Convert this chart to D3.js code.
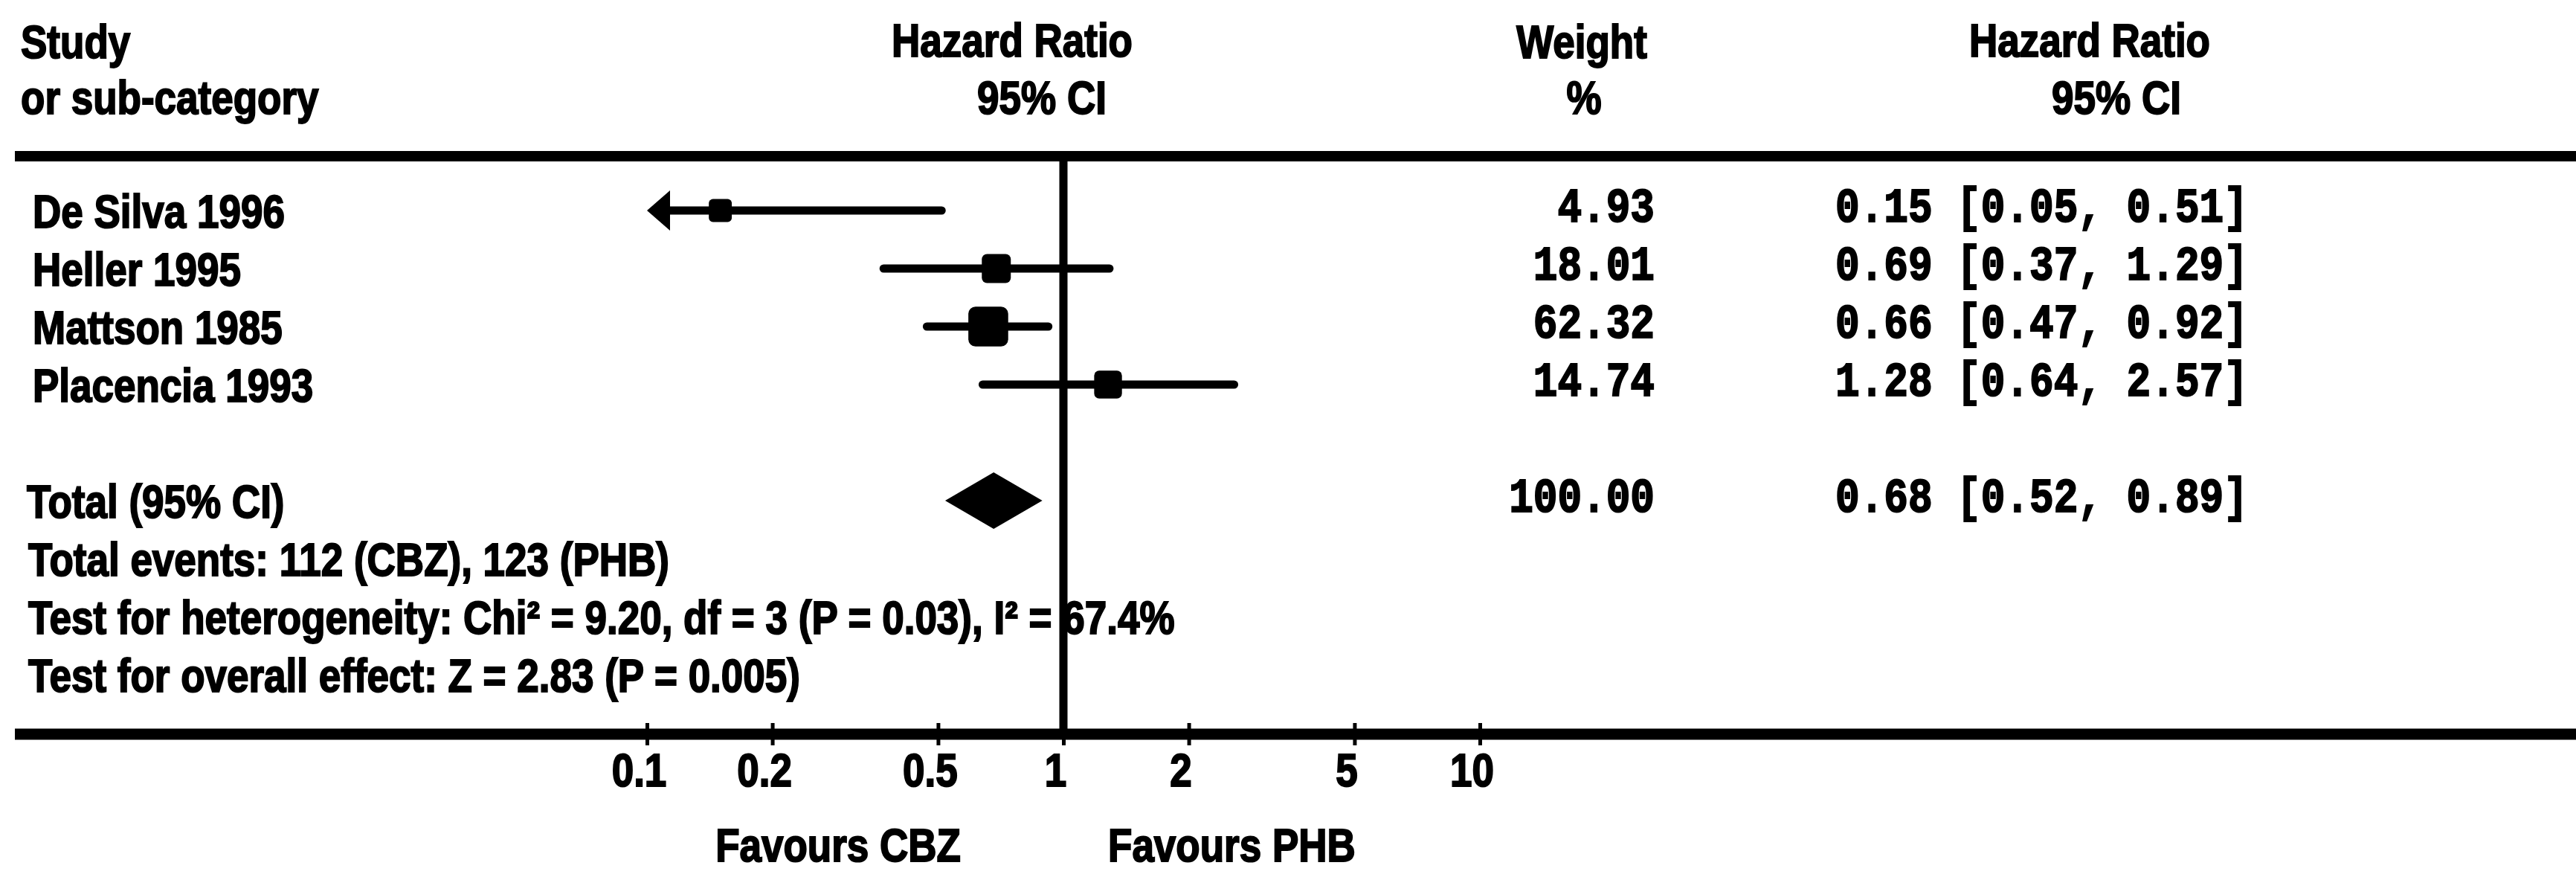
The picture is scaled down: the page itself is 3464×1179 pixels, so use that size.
<!DOCTYPE html>
<html>
<head>
<meta charset="utf-8">
<script src="https://cdn.jsdelivr.net/npm/d3@7"></script>
<style>
  html, body { margin: 0; padding: 0; background: #fff; }
  svg { display: block; }
</style>
</head>
<body>
<svg id="chart" width="3464" height="1179"></svg>
<script>
// ---- data -------------------------------------------------------------
const studies     = ["De Silva 1996", "Heller 1995", "Mattson 1985", "Placencia 1993"];
const hazardRatio = [0.15, 0.69, 0.66, 1.28];
const ciLower     = [0.05, 0.37, 0.47, 0.64];
const ciUpper     = [0.51, 1.29, 0.92, 2.57];
const weights     = [4.93, 18.01, 62.32, 14.74];

const totalLabel    = "Total (95% CI)";
const totalEstimate = [0.68, 0.52, 0.89];   // pooled HR, lower, upper
const totalWeight   = 100.00;

const footnotes = [
  "Total events: 112 (CBZ), 123 (PHB)",
  "Test for heterogeneity: Chi\u00B2 = 9.20, df = 3 (P = 0.03), I\u00B2 = 67.4%",
  "Test for overall effect: Z = 2.83 (P = 0.005)"
];

const tickValues   = [0.1, 0.2, 0.5, 1, 2, 5, 10];
const tickLabels   = ["0.1", "0.2", "0.5", "1", "2", "5", "10"];
const favourLabels = ["Favours CBZ", "Favours PHB"];

const headerLeft   = ["Study", "or sub-category"];
const headerEffect = ["Hazard Ratio", "95% CI"];
const headerWeight = ["Weight", "%"];

// ---- layout -----------------------------------------------------------
const W = 3464, H = 1179;
const SANS = "'Liberation Sans', Arial, sans-serif";
const MONO = "'Liberation Mono', 'Courier New', monospace";
const SANS_SIZE = 62, MONO_SIZE = 64;
const SX = 0.855;          // glyphs in this plot are set narrow
const MONO_SX = 0.85;
const INK = 2;             // extra stroke to give the type its heavy look

const svg = d3.select("#chart");
svg.append("rect").attr("width", W).attr("height", H).attr("fill", "#fff");

const x = d3.scaleLog().domain([0.1, 10]).range([870, 1990]);
const rowIds = [...studies, "gap", "total", "events", "het", "overall"];
const y = d3.scalePoint().domain(rowIds).range([283, 907]);
const boxSize = d3.scaleSqrt().domain([0, 100]).range([22, 62]);

function label(parent, px, py, txt, opt = {}) {
  const mono = opt.mono;
  const g = parent.append("g")
    .attr("transform", `translate(${px},${py}) scale(${mono ? MONO_SX : SX},1)`);
  g.append("text")
    .attr("text-anchor", opt.anchor || "start")
    .attr("font-family", mono ? MONO : SANS)
    .attr("font-weight", "bold")
    .attr("font-size", mono ? MONO_SIZE : SANS_SIZE)
    .attr("fill", "#000")
    .attr("stroke", "#000")
    .attr("stroke-width", INK)
    .text(txt);
  return g;
}

// ---- header -----------------------------------------------------------
const head = svg.append("g");
label(head, 28, 78, headerLeft[0]);
label(head, 28, 153, headerLeft[1]);
label(head, 1361, 76, headerEffect[0], {anchor: "middle"});
label(head, 1401, 153, headerEffect[1], {anchor: "middle"});
label(head, 2127, 78, headerWeight[0], {anchor: "middle"});
label(head, 2130, 153, headerWeight[1], {anchor: "middle"});
label(head, 2810, 76, headerEffect[0], {anchor: "middle"});
label(head, 2846, 153, headerEffect[1], {anchor: "middle"});

// heavy rule under the header
svg.append("line")
  .attr("x1", 20).attr("x2", W).attr("y1", 210).attr("y2", 210)
  .attr("stroke", "#000").attr("stroke-width", 14);

// ---- axis -------------------------------------------------------------
const axisY = 987;
svg.append("line")
  .attr("x1", 20).attr("x2", W).attr("y1", axisY).attr("y2", axisY)
  .attr("stroke", "#000").attr("stroke-width", 15);

const axis = d3.axisBottom(x)
  .tickValues(tickValues)
  .tickFormat((d, i) => tickLabels[i]);

const axisG = svg.append("g").attr("transform", `translate(0,${axisY})`).call(axis);
axisG.select(".domain").remove();
axisG.selectAll(".tick line")
  .attr("y1", -15).attr("y2", 15)
  .attr("stroke", "#000").attr("stroke-width", 5);
axisG.selectAll(".tick text")
  .attr("y", 70).attr("dy", null)
  .attr("transform", `translate(-11,0) scale(${SX},1)`)
  .attr("font-family", SANS).attr("font-weight", "bold")
  .attr("font-size", SANS_SIZE).attr("fill", "#000")
  .attr("stroke", "#000").attr("stroke-width", INK);

// line of no effect
svg.append("line")
  .attr("x1", x(1)).attr("x2", x(1)).attr("y1", 210).attr("y2", axisY)
  .attr("stroke", "#000").attr("stroke-width", 11);

// favours labels
label(svg, x(1) - 138, 1158, favourLabels[0], {anchor: "end"});
label(svg, x(1) + 60, 1158, favourLabels[1], {anchor: "start"});

// ---- study rows -------------------------------------------------------
const [xMin, xMax] = x.domain();
const rows = svg.append("g");
studies.forEach((name, i) => {
  const cy = y(name);
  label(rows, 44, cy + 23, name);

  const lo = Math.max(ciLower[i], xMin), hi = Math.min(ciUpper[i], xMax);
  const arrowLen = 31, arrowHalf = 27;
  const x0 = ciLower[i] < xMin ? x(lo) + arrowLen : x(lo);
  const x1 = ciUpper[i] > xMax ? x(hi) - arrowLen : x(hi);

  rows.append("line")
    .attr("x1", x0).attr("x2", x1).attr("y1", cy).attr("y2", cy)
    .attr("stroke", "#000").attr("stroke-width", 11).attr("stroke-linecap", "round");

  if (ciLower[i] < xMin) {
    rows.append("path")
      .attr("d", `M${x(lo)},${cy} L${x(lo) + arrowLen},${cy - arrowHalf} L${x(lo) + arrowLen},${cy + arrowHalf} Z`)
      .attr("fill", "#000");
  }
  if (ciUpper[i] > xMax) {
    rows.append("path")
      .attr("d", `M${x(hi)},${cy} L${x(hi) - arrowLen},${cy - arrowHalf} L${x(hi) - arrowLen},${cy + arrowHalf} Z`)
      .attr("fill", "#000");
  }

  const s = boxSize(weights[i]);
  rows.append("rect")
    .attr("x", x(hazardRatio[i]) - s / 2).attr("y", cy - s / 2)
    .attr("width", s).attr("height", s)
    .attr("rx", s * 0.18).attr("fill", "#000");

  label(rows, 2225, cy + 15, weights[i].toFixed(2), {anchor: "end", mono: true});
  label(rows, 2468, cy + 15,
    `${hazardRatio[i].toFixed(2)} [${ciLower[i].toFixed(2)}, ${ciUpper[i].toFixed(2)}]`,
    {mono: true});
});

// ---- pooled estimate ---------------------------------------------------
const ty = y("total");
const [tHR, tLo, tHi] = totalEstimate;
label(rows, 36, ty + 23, totalLabel);
rows.append("path")
  .attr("d", `M${x(tLo)},${ty} L${x(tHR)},${ty - 38} L${x(tHi)},${ty} L${x(tHR)},${ty + 38} Z`)
  .attr("fill", "#000");
label(rows, 2225, ty + 15, totalWeight.toFixed(2), {anchor: "end", mono: true});
label(rows, 2468, ty + 15,
  `${tHR.toFixed(2)} [${tLo.toFixed(2)}, ${tHi.toFixed(2)}]`, {mono: true});

// ---- footnotes --------------------------------------------------------
["events", "het", "overall"].forEach((id, i) => {
  label(rows, 38, y(id) + 23, footnotes[i]);
});
</script>
</body>
</html>
